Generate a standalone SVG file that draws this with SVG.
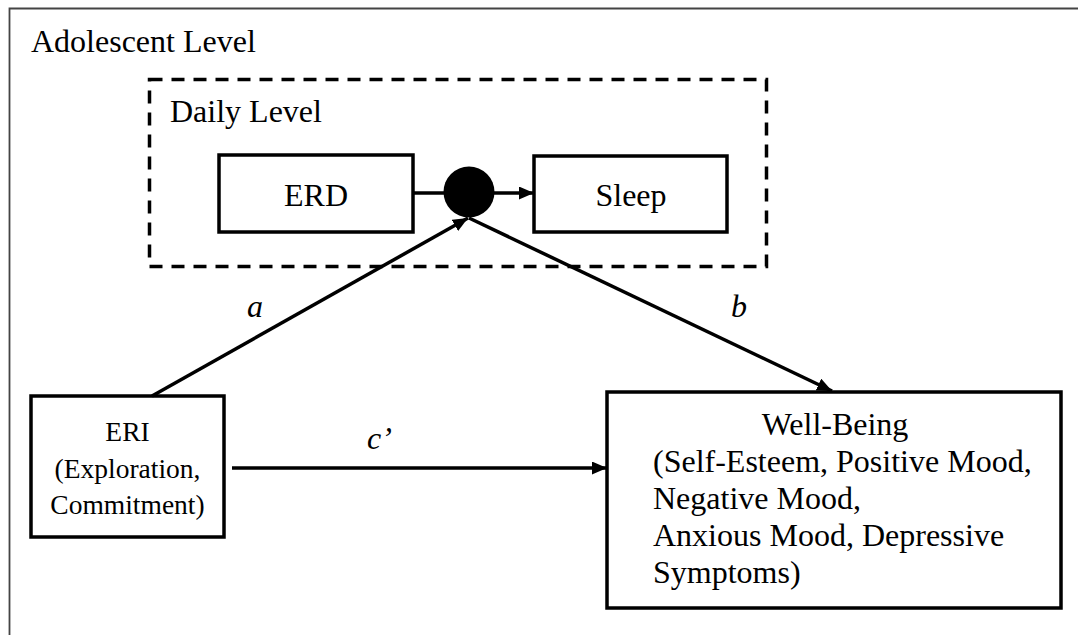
<svg xmlns="http://www.w3.org/2000/svg" width="1078" height="635" viewBox="0 0 1078 635">
<style>
  text { font-family: "Liberation Serif", "Times New Roman", serif; fill: #000; }
  .lbl { font-size: 32px; }
  .small { font-size: 27.5px; }
  .it { font-style: italic; font-size: 32px; }
  .box { fill: #fff; stroke: #000; stroke-width: 3.5; }
  .edge { stroke: #000; stroke-width: 3.5; fill: none; }
</style>
<defs>
  <marker id="arr" viewBox="0 0 15 13" refX="15" refY="6.5" markerWidth="15" markerHeight="13" markerUnits="userSpaceOnUse" orient="auto">
    <path d="M0,0 L15,6.5 L0,13 Z" fill="#000"/>
  </marker>
</defs>
<rect width="1078" height="635" fill="#fff"/>
<g id="adolescent-level">
  <path d="M9.5,635 V8.5 H1078" fill="none" stroke="#444" stroke-width="1.8"/>
  <text class="lbl" x="31" y="52">Adolescent Level</text>
</g>
<g id="daily-level">
  <rect x="149.5" y="79.5" width="617" height="187" fill="none" stroke="#000" stroke-width="3.5" stroke-dasharray="13 9"/>
  <text class="lbl" x="170" y="122">Daily Level</text>
</g>
<g id="erd">
  <rect class="box" x="219" y="155" width="194" height="77"/>
  <text class="lbl" x="316" y="206" text-anchor="middle">ERD</text>
</g>
<g id="sleep">
  <rect class="box" x="534" y="156" width="193" height="76"/>
  <text class="lbl" x="631" y="206" text-anchor="middle">Sleep</text>
</g>
<g id="moderator">
  <circle cx="469" cy="192" r="25.5" fill="#000"/>
</g>
<g id="eri">
  <rect class="box" x="31" y="396" width="193" height="141"/>
  <text class="small" x="127.5" y="441" text-anchor="middle">ERI</text>
  <text class="small" x="127.5" y="478" text-anchor="middle">(Exploration,</text>
  <text class="small" x="127.5" y="514" text-anchor="middle">Commitment)</text>
</g>
<g id="well-being">
  <rect class="box" x="607" y="392" width="454" height="216"/>
  <text class="lbl" x="835" y="435" text-anchor="middle">Well-Being</text>
  <text class="lbl" x="653" y="472">(Self-Esteem, Positive Mood,</text>
  <text class="lbl" x="653" y="509">Negative Mood,</text>
  <text class="lbl" x="653" y="546">Anxious Mood, Depressive</text>
  <text class="lbl" x="653" y="583">Symptoms)</text>
</g>
<g id="connectors">
  <line class="edge" x1="413" y1="193" x2="444" y2="193"/>
  <line class="edge" x1="494" y1="193" x2="534" y2="193" marker-end="url(#arr)"/>
  <line class="edge" x1="152" y1="396" x2="468" y2="218" marker-end="url(#arr)"/>
  <line class="edge" x1="469" y1="218" x2="832" y2="391" marker-end="url(#arr)"/>
  <line class="edge" x1="232" y1="468" x2="607" y2="468" marker-end="url(#arr)"/>
  <text class="it" x="247" y="317">a</text>
  <text class="it" x="731" y="317">b</text>
  <text class="it" x="367" y="449">c’</text>
</g>
</svg>
